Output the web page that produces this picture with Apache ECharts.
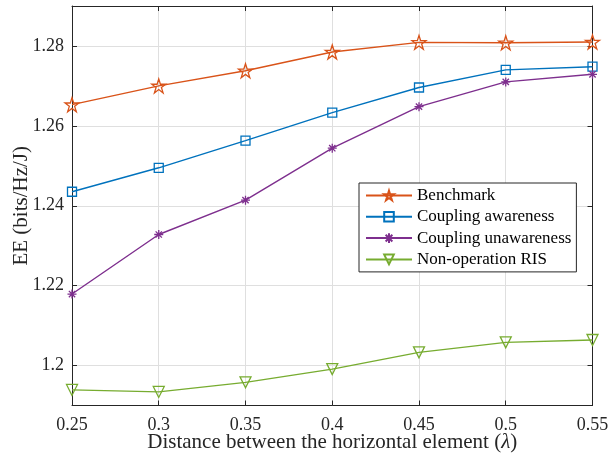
<!DOCTYPE html>
<html><head><meta charset="utf-8">
<script src="https://cdn.jsdelivr.net/npm/echarts@6/dist/echarts.min.js"></script>
<style>html,body{margin:0;padding:0;background:#fff}#c{width:611px;height:459px}</style>
</head><body><div id="c"></div>
<script>
var xValues = [0.25, 0.3, 0.35, 0.4, 0.45, 0.5, 0.55];
var benchmark = [1.2653, 1.2700, 1.2738, 1.2785, 1.2809, 1.2808, 1.2810];
var awareness = [1.2435, 1.2495, 1.2563, 1.2633, 1.2696, 1.2740, 1.2748];
var unawareness = [1.2179, 1.2328, 1.2414, 1.2544, 1.2648, 1.2710, 1.2729];
var nonOperation = [1.1939, 1.1934, 1.1958, 1.1991, 1.2033, 1.2058, 1.2064];
var seriesNames = ['Benchmark', 'Coupling awareness', 'Coupling unawareness', 'Non-operation RIS'];
var yTickValues = [1.2, 1.22, 1.24, 1.26, 1.28];

var FONT = '"Liberation Serif", "DejaVu Serif", serif';
var AX = '#262626';
var GRIDC = '#dfdfdf';
var star = 'path://M0,-1L0.2245,-0.309L0.951,-0.309L0.363,0.118L0.588,0.809L0,0.382L-0.588,0.809L-0.363,0.118L-0.951,-0.309L-0.2245,-0.309Z';
var asterisk = 'path://M0,-1L0,1M-1,0L1,0M-0.7,-0.7L0.7,0.7M-0.7,0.7L0.7,-0.7';

function pairs(arr){ return xValues.map(function(x,i){ return [x, arr[i]]; }); }
function mk(name, data, color, symbol, size, rotate){
  return {
    name: name, type: 'line', data: pairs(data), xAxisIndex: 0, yAxisIndex: 0,
    symbol: symbol, symbolSize: size, symbolRotate: rotate || 0,
    lineStyle: {color: color, width: 1.4},
    itemStyle: {color: 'rgba(255,255,255,0)', borderColor: color, borderWidth: 1.3},
    emphasis: {disabled: true}, animation: false, z: 3
  };
}
var chart = echarts.init(document.getElementById('c'), null, {renderer: 'canvas'});
var axisCommonX = {type: 'value', min: 0.25, max: 0.55, interval: 0.05};
var axisCommonY = {type: 'value', min: 1.19, max: 1.29};
chart.setOption({
  animation: false,
  backgroundColor: '#fff',
  grid: {left: 72, right: 18.5, top: 6, bottom: 53.5, outerBoundsMode: 'none', containLabel: false},
  legend: {
    orient: 'vertical', left: 359, top: 183,
    data: seriesNames,
    backgroundColor: '#fff', borderColor: AX, borderWidth: 1,
    padding: [4, 5, 4, 6], itemWidth: 46, itemHeight: 12, itemGap: 4.3,
    textStyle: {fontFamily: FONT, fontSize: 17, color: '#000'}
  },
  xAxis: [
    Object.assign({}, axisCommonX, {
      position: 'bottom',
      name: 'Distance between the horizontal element ({i|λ})', nameLocation: 'middle', nameGap: 26,
      nameMoveOverlap: false,
      nameTextStyle: {fontFamily: FONT, fontSize: 21, color: AX, rich: {i: {fontFamily: FONT, fontStyle: 'italic', fontSize: 21, color: AX}}},
      axisLine: {show: true, lineStyle: {color: AX, width: 1}},
      axisTick: {show: true, inside: true, length: 5, lineStyle: {color: AX}},
      axisLabel: {fontFamily: FONT, fontSize: 18, color: AX, margin: 11},
      splitLine: {show: true, lineStyle: {color: GRIDC, width: 1}}
    }),
    Object.assign({}, axisCommonX, {
      position: 'top',
      axisLine: {show: true, onZero: false, lineStyle: {color: AX, width: 1}},
      axisTick: {show: true, inside: true, length: 5, lineStyle: {color: AX}},
      axisLabel: {show: false}, splitLine: {show: false}
    })
  ],
  yAxis: [
    Object.assign({}, axisCommonY, {
      position: 'left',
      name: 'EE (bits/Hz/J)', nameLocation: 'middle', nameGap: 40,
      nameMoveOverlap: false,
      nameTextStyle: {fontFamily: FONT, fontSize: 21, color: AX},
      axisLine: {show: true, onZero: false, lineStyle: {color: AX, width: 1}},
      axisTick: {show: true, inside: true, length: 5, lineStyle: {color: AX}, customValues: yTickValues},
      axisLabel: {fontFamily: FONT, fontSize: 18, color: AX, margin: 8, customValues: yTickValues,
        formatter: function(v){ return String(+(+v).toFixed(4)); }},
      splitLine: {show: true, lineStyle: {color: GRIDC, width: 1}}
    }),
    Object.assign({}, axisCommonY, {
      position: 'right',
      axisLine: {show: true, onZero: false, lineStyle: {color: AX, width: 1}},
      axisTick: {show: true, inside: true, length: 5, lineStyle: {color: AX}, customValues: yTickValues},
      axisLabel: {show: false, customValues: yTickValues}, splitLine: {show: false}
    })
  ],
  series: [
    mk(seriesNames[0], benchmark, '#D95319', star, 14),
    mk(seriesNames[1], awareness, '#0072BD', 'rect', 9),
    mk(seriesNames[2], unawareness, '#7E2F8E', asterisk, 9),
    mk(seriesNames[3], nonOperation, '#77AC30', 'triangle', 11, 180)
  ]
});
</script></body></html>
